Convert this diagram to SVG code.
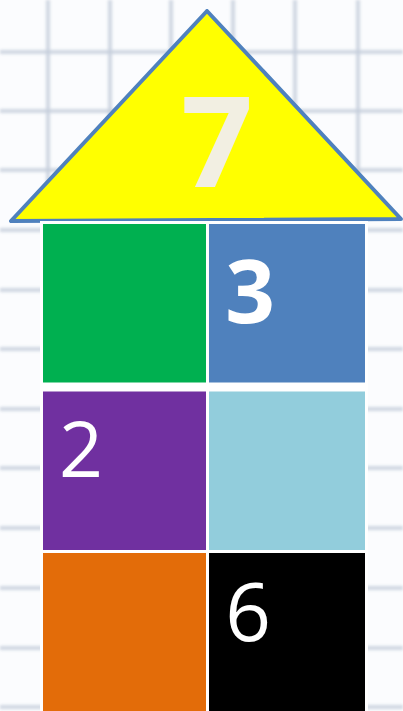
<svg xmlns="http://www.w3.org/2000/svg" width="403" height="711" viewBox="0 0 403 711">
<defs>
<style>
.grid line{stroke:#c5cddb;stroke-width:4;opacity:0.8}
.num{fill:#ffffff;font-family:"Open Sans","Liberation Sans",sans-serif;text-anchor:middle}
.cell{stroke:none}
</style>
<filter id="blur" x="-5%" y="-5%" width="110%" height="110%"><feGaussianBlur stdDeviation="1.6"/></filter>
</defs>
<rect width="403" height="711" fill="#fbfcfe"/>
<g class="grid" filter="url(#blur)">
<line x1="48" y1="0" x2="48" y2="711"/>
<line x1="110" y1="0" x2="110" y2="711"/>
<line x1="171" y1="0" x2="171" y2="711"/>
<line x1="233" y1="0" x2="233" y2="711"/>
<line x1="295" y1="0" x2="295" y2="711"/>
<line x1="358" y1="0" x2="358" y2="711"/>
<line x1="0" y1="52" x2="403" y2="52"/>
<line x1="0" y1="111" x2="403" y2="111"/>
<line x1="0" y1="170" x2="403" y2="170"/>
<line x1="0" y1="230" x2="403" y2="230"/>
<line x1="0" y1="290" x2="403" y2="290"/>
<line x1="0" y1="349" x2="403" y2="349"/>
<line x1="0" y1="409" x2="403" y2="409"/>
<line x1="0" y1="468" x2="403" y2="468"/>
<line x1="0" y1="528" x2="403" y2="528"/>
<line x1="0" y1="588" x2="403" y2="588"/>
<line x1="0" y1="648" x2="403" y2="648"/>
<line x1="0" y1="707" x2="403" y2="707"/>
</g>
<g id="roof">
<polygon points="207,11 11,221 401,219" fill="#ffff00" stroke="#4f81bd" stroke-width="4" stroke-linejoin="round"/>
<text class="num" x="217" y="187" font-size="126" font-weight="bold" fill="#f2efe2" style="fill:#f2efe2">7</text>
</g>
<rect x="40" y="221" width="328" height="490" fill="#ffffff"/>
<g id="cell-green"><rect class="cell" x="43" y="224" width="163" height="158.5" fill="#00b050"/></g>
<g id="cell-blue"><rect class="cell" x="209" y="224" width="156" height="158.5" fill="#4f81bd"/>
<text class="num" x="250" y="323" font-size="87" font-weight="bold">3</text></g>
<g id="cell-purple"><rect class="cell" x="43" y="391.5" width="163" height="158.5" fill="#7030a0"/>
<text class="num" x="81" y="477" font-size="77">2</text></g>
<g id="cell-lightblue"><rect class="cell" x="209" y="391.5" width="156" height="158.5" fill="#92cddc"/></g>
<g id="cell-orange"><rect class="cell" x="43" y="553" width="163" height="158" fill="#e36c09"/></g>
<g id="cell-black"><rect class="cell" x="209" y="553" width="156" height="158" fill="#000000"/>
<text class="num" x="248" y="641" font-size="80">6</text></g>
</svg>
